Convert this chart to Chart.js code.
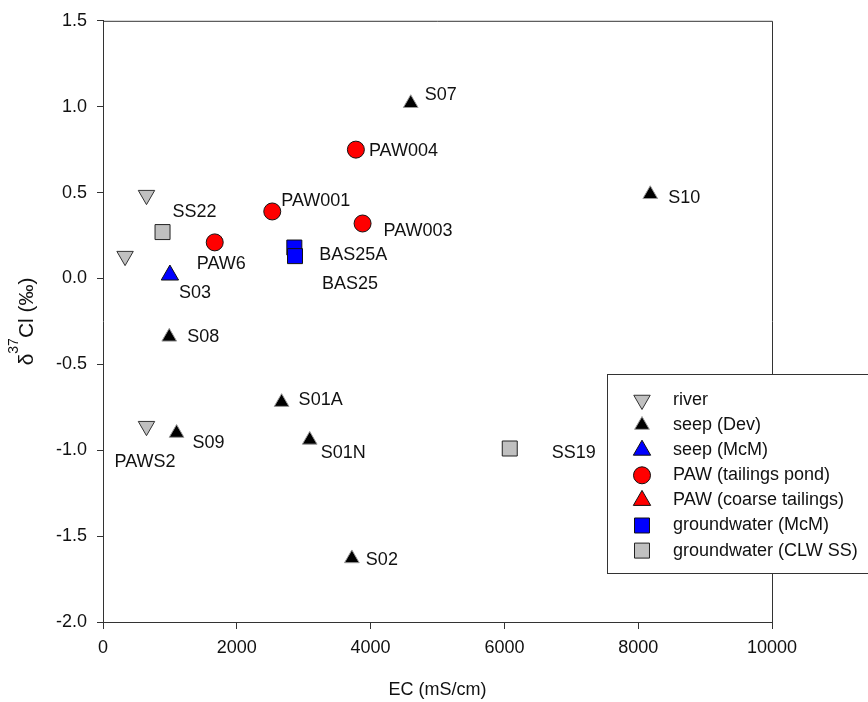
<!DOCTYPE html>
<html>
<head>
<meta charset="utf-8">
<script src="https://cdn.jsdelivr.net/npm/chart.js@4/dist/chart.umd.min.js"></script>
<style>
  html, body { margin: 0; padding: 0; background: #fff; }
  #wrap { width: 868px; height: 702px; position: relative; }
</style>
</head>
<body>
<div id="wrap"><canvas id="c"></canvas></div>
<script>
const FONT = '"Liberation Sans", Arial, Helvetica, sans-serif';

// EC (mS/cm) against δ37Cl (‰), one set of arrays per sample group
const riverEC = [650, 330, 650];
const riverD37Cl = [0.485, 0.13, -0.86];
const riverNames = ['', '', 'PAWS2'];

const seepDevEC = [4600, 8180, 990, 2670, 1100, 3090, 3720];
const seepDevD37Cl = [1.02, 0.49, -0.34, -0.72, -0.90, -0.94, -1.63];
const seepDevNames = ['S07', 'S10', 'S08', 'S01A', 'S09', 'S01N', 'S02'];

const seepMcMEC = [1000];
const seepMcMD37Cl = [0.02];
const seepMcMNames = ['S03'];

const pawPondEC = [3780, 2530, 3880, 1670];
const pawPondD37Cl = [0.75, 0.39, 0.32, 0.21];
const pawPondNames = ['PAW004', 'PAW001', 'PAW003', 'PAW6'];

const pawCoarseEC = [];
const pawCoarseD37Cl = [];
const pawCoarseNames = [];

const gwMcMEC = [2860, 2870];
const gwMcMD37Cl = [0.18, 0.13];
const gwMcMNames = ['BAS25A', 'BAS25'];

const gwClwEC = [890, 6080];
const gwClwD37Cl = [0.27, -0.99];
const gwClwNames = ['SS22', 'SS19'];

const xTickValues = [0, 2000, 4000, 6000, 8000, 10000];
const yTickValues = [-2.0, -1.5, -1.0, -0.5, 0.0, 0.5, 1.0, 1.5];

const xTitle = 'EC (mS/cm)';
const yTitleParts = ['δ', '37', 'Cl (‰)'];

// where each sample name sits relative to its marker, in pixels
const labelOffset = {
  PAWS2: [-32, 36],
  S07: [14, -8], S10: [18, 4], S08: [18, 0], S01A: [17, -2],
  S09: [16, 10], S01N: [11, 13], S02: [14, 2],
  S03: [9, 18],
  PAW004: [13, 1], PAW001: [9, -10], PAW003: [21, 8], PAW6: [-18, 22],
  BAS25A: [25, 7], BAS25: [27, 28],
  SS22: [10, -20], SS19: [42, 5]
};

function pts(xs, ys) { return xs.map((x, i) => ({ x: x, y: ys[i] })); }

const groups = [
  { label: 'river', data: pts(riverEC, riverD37Cl), names: riverNames,
    pointStyle: 'triangle', rotation: 180, radius: 9.5, bg: '#c0c0c0', border: '#333' },
  { label: 'seep (Dev)', data: pts(seepDevEC, seepDevD37Cl), names: seepDevNames,
    pointStyle: 'triangle', rotation: 0, radius: 8.5, bg: '#000000', border: '#9a9a9a' },
  { label: 'seep (McM)', data: pts(seepMcMEC, seepMcMD37Cl), names: seepMcMNames,
    pointStyle: 'triangle', rotation: 0, radius: 10, bg: '#0000ff', border: '#111' },
  { label: 'PAW (tailings pond)', data: pts(pawPondEC, pawPondD37Cl), names: pawPondNames,
    pointStyle: 'circle', rotation: 0, radius: 8.5, bg: '#ff0000', border: '#111' },
  { label: 'PAW (coarse tailings)', data: pts(pawCoarseEC, pawCoarseD37Cl), names: pawCoarseNames,
    pointStyle: 'triangle', rotation: 0, radius: 10, bg: '#ff0000', border: '#111' },
  { label: 'groundwater (McM)', data: pts(gwMcMEC, gwMcMD37Cl), names: gwMcMNames,
    pointStyle: 'rect', rotation: 0, radius: 10.6, bg: '#0000ff', border: '#111' },
  { label: 'groundwater (CLW SS)', data: pts(gwClwEC, gwClwD37Cl), names: gwClwNames,
    pointStyle: 'rect', rotation: 0, radius: 10.6, bg: '#c0c0c0', border: '#222' }
];

const datasets = groups.map(g => ({
  label: g.label,
  data: g.data,
  names: g.names,
  showLine: false,
  pointStyle: g.pointStyle,
  rotation: g.rotation,
  pointRadius: g.radius,
  pointHoverRadius: g.radius,
  pointBackgroundColor: g.bg,
  pointBorderColor: g.border,
  pointBorderWidth: 1,
  backgroundColor: g.bg,
  borderColor: g.border
}));

function drawMarker(ctx, g, x, y) {
  ctx.save();
  ctx.fillStyle = g.bg;
  ctx.strokeStyle = g.border;
  ctx.lineWidth = 1;
  Chart.helpers.drawPoint(ctx, { pointStyle: g.pointStyle, radius: g.radius, rotation: g.rotation, borderWidth: 1 }, x, y);
  ctx.restore();
}

const decorations = {
  id: 'decorations',
  afterDatasetsDraw(chart) {
    const ctx = chart.ctx;
    const a = chart.chartArea;

    // top and right edges of the frame
    ctx.save();
    ctx.strokeStyle = '#333';
    ctx.lineWidth = 1;
    ctx.beginPath();
    ctx.moveTo(a.left, a.top + 0.5);
    ctx.lineTo(a.right + 0.5, a.top + 0.5);
    ctx.lineTo(a.right + 0.5, a.bottom);
    ctx.stroke();
    ctx.restore();

    // sample names next to their markers
    ctx.save();
    ctx.font = '18px ' + FONT;
    ctx.fillStyle = '#111';
    ctx.textAlign = 'left';
    ctx.textBaseline = 'middle';
    chart.data.datasets.forEach((ds, di) => {
      const meta = chart.getDatasetMeta(di);
      meta.data.forEach((el, i) => {
        const name = ds.names[i];
        if (!name) return;
        const off = labelOffset[name] || [12, 0];
        ctx.fillText(name, el.x + off[0], el.y + off[1]);
      });
    });
    ctx.restore();

    // legend box
    ctx.save();
    ctx.fillStyle = '#fff';
    ctx.strokeStyle = '#333';
    ctx.lineWidth = 1;
    ctx.fillRect(607, 374, 300, 199);
    ctx.strokeRect(607.5, 374.5, 300, 199);
    ctx.font = '18px ' + FONT;
    ctx.textBaseline = 'middle';
    groups.forEach((g, i) => {
      const y = 400 + i * 25.1;
      drawMarker(ctx, g, 642, y);
      ctx.fillStyle = '#111';
      ctx.fillText(g.label, 673, y);
    });
    ctx.restore();

    // axis titles
    ctx.save();
    ctx.fillStyle = '#111';
    ctx.font = '18px ' + FONT;
    ctx.textAlign = 'center';
    ctx.textBaseline = 'middle';
    ctx.fillText(xTitle, (a.left + a.right) / 2, 690);

    const big = '21px ' + FONT, small = '14px ' + FONT;
    ctx.font = big; const w0 = ctx.measureText(yTitleParts[0]).width;
    ctx.font = small; const w1 = ctx.measureText(yTitleParts[1]).width;
    ctx.font = big; const w2 = ctx.measureText(yTitleParts[2]).width;
    const total = w0 + w1 + w2;
    ctx.translate(33, (a.top + a.bottom) / 2);
    ctx.rotate(-Math.PI / 2);
    ctx.textAlign = 'left';
    ctx.textBaseline = 'alphabetic';
    let x = -total / 2;
    ctx.font = big; ctx.fillText(yTitleParts[0], x, 0); x += w0;
    ctx.font = small; ctx.fillText(yTitleParts[1], x, -15); x += w1;
    ctx.font = big; ctx.fillText(yTitleParts[2], x, 0);
    ctx.restore();
  }
};

new Chart(document.getElementById('c'), {
  type: 'scatter',
  data: { datasets: datasets },
  options: {
    responsive: true,
    maintainAspectRatio: false,
    devicePixelRatio: 1,
    animation: false,
    layout: { padding: { left: 0, top: 19, right: 96, bottom: 0 } },
    plugins: { legend: { display: false }, tooltip: { enabled: false } },
    scales: {
      x: {
        type: 'linear',
        min: 0, max: 10000,
        afterBuildTicks: s => { s.ticks = xTickValues.map(v => ({ value: v })); },
        afterFit: s => { s.height = 80; },
        grid: { display: true, drawOnChartArea: false, drawTicks: true, tickLength: 7, tickColor: '#333', tickWidth: 1 },
        border: { display: true, color: '#333', width: 1 },
        ticks: { font: { family: FONT, size: 18 }, color: '#111', padding: 8, maxRotation: 0,
                 callback: v => String(v) }
      },
      y: {
        type: 'linear',
        min: -2, max: 1.5,
        afterBuildTicks: s => { s.ticks = yTickValues.map(v => ({ value: v })); },
        afterFit: s => { s.width = 103; },
        grid: { display: true, drawOnChartArea: false, drawTicks: true, tickLength: 6, tickColor: '#333', tickWidth: 1 },
        border: { display: true, color: '#333', width: 1 },
        ticks: { font: { family: FONT, size: 18 }, color: '#111', padding: 10,
                 callback: v => Number(v).toFixed(1) }
      }
    }
  },
  plugins: [decorations]
});
</script>
</body>
</html>
